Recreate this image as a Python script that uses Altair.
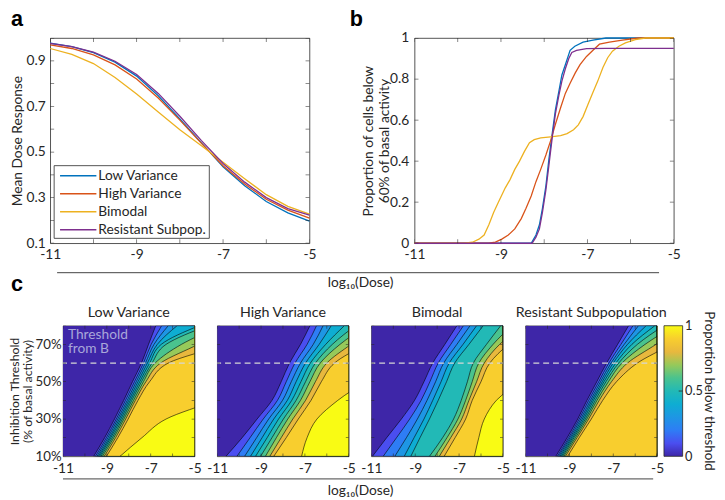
import altair as alt
import pandas as pd

FONT = "Lato"
INK = "#262626"

# ---------------- panel a : mean dose response ----------------
dose_a = [-11, -10.5, -10, -9.5, -9, -8.5, -8, -7.5, -7, -6.5, -6, -5.5, -5]
mean_low = [0.977, 0.962, 0.936, 0.894, 0.833, 0.747, 0.645, 0.540, 0.435, 0.352, 0.283, 0.233, 0.197]
mean_high = [0.970, 0.954, 0.926, 0.882, 0.820, 0.737, 0.640, 0.538, 0.440, 0.360, 0.293, 0.245, 0.210]
mean_bimodal = [0.954, 0.928, 0.888, 0.827, 0.754, 0.676, 0.598, 0.528, 0.455, 0.383, 0.313, 0.262, 0.228]
mean_resistant = [0.976, 0.962, 0.938, 0.898, 0.840, 0.757, 0.657, 0.550, 0.450, 0.368, 0.300, 0.252, 0.223]
series_names = ["Low Variance", "High Variance", "Bimodal", "Resistant Subpop."]
series_colors = ["#0072BD", "#D95319", "#EDB120", "#7E2F8E"]

# ---------------- panel b : proportion below 60% ----------------
b_low_dose = [-11, -8.30, -8.19, -8.11, -8.04, -7.96, -7.89, -7.81, -7.74, -7.66, -7.59, -7.51, -7.40, -7.29, -7.10, -6.87, -6.57, -5]
b_low_prop = [0, 0, 0.04, 0.09, 0.17, 0.28, 0.41, 0.54, 0.65, 0.74, 0.82, 0.87, 0.94, 0.96, 0.98, 0.99, 1.0, 1.0]
b_high_dose = [-11, -9.28, -9.13, -8.98, -8.83, -8.68, -8.53, -8.42, -8.30, -8.19, -8.08, -7.96, -7.85, -7.74, -7.62, -7.51, -7.40, -7.28, -7.17, -7.02, -6.87, -6.72, -6.49, -6.19, -5.82, -5]
b_high_prop = [0, 0, 0.006, 0.02, 0.04, 0.07, 0.12, 0.17, 0.23, 0.30, 0.36, 0.43, 0.50, 0.58, 0.66, 0.73, 0.78, 0.83, 0.87, 0.91, 0.94, 0.97, 0.98, 0.99, 1.0, 1.0]
b_bim_dose = [-11, -9.85, -9.66, -9.51, -9.39, -9.28, -9.17, -9.06, -8.90, -8.79, -8.68, -8.57, -8.45, -8.34, -8.23, -8.08, -7.85, -7.62, -7.47, -7.32, -7.21, -7.10, -6.98, -6.87, -6.76, -6.64, -6.53, -6.42, -6.27, -6.12, -5.89, -5.66, -5]
b_bim_prop = [0, 0, 0.005, 0.02, 0.04, 0.09, 0.15, 0.20, 0.27, 0.31, 0.36, 0.40, 0.45, 0.49, 0.505, 0.513, 0.518, 0.524, 0.534, 0.553, 0.577, 0.617, 0.68, 0.736, 0.79, 0.856, 0.904, 0.936, 0.96, 0.976, 0.992, 1.0, 1.0]
b_res_dose = [-11, -8.28, -8.19, -8.11, -8.04, -7.96, -7.89, -7.81, -7.74, -7.66, -7.59, -7.51, -7.43, -7.36, -7.25, -7.02, -6.57, -5]
b_res_prop = [0, 0, 0.03, 0.07, 0.15, 0.26, 0.38, 0.52, 0.63, 0.72, 0.79, 0.85, 0.90, 0.93, 0.94, 0.948, 0.95, 0.95]

# ---------------- panel c : contour maps ----------------
thresholds = [10, 20, 30, 40, 50, 60, 70, 80]
levels = [0.0, 0.1, 0.2, 0.3, 0.4, 0.5, 0.6, 0.7, 0.8, 0.9, 1.0]
parula = ["#3e26a8", "#4a4ef0", "#2e7df5", "#1e96e4", "#0eadd2", "#22b9b6",
          "#4ac38e", "#96c95a", "#e8b83e", "#f8ce2e", "#f9fb14"]
c_titles = ["Low Variance", "High Variance", "Bimodal", "Resistant Subpopulation"]
threshold_from_b = 60
threshold_note = "Threshold\nfrom B"

# log10(dose) of each contour level (0.1 ... 1.0) at thresholds 10% ... 80%
low_bounds = [
    [-9.60, -9.10, -8.65, -8.23, -7.83, -7.42, -7.10, -6.77],
    [-9.52, -9.02, -8.57, -8.15, -7.74, -7.33, -6.98, -6.50],
    [-9.45, -8.95, -8.50, -8.07, -7.66, -7.24, -6.85, -6.20],
    [-9.39, -8.88, -8.43, -8.00, -7.58, -7.15, -6.70, -5.80],
    [-9.33, -8.82, -8.36, -7.93, -7.50, -7.05, -6.52, -4.80],
    [-9.27, -8.75, -8.29, -7.86, -7.42, -6.94, -6.30, -4.40],
    [-9.20, -8.68, -8.22, -7.78, -7.33, -6.80, -5.60, -3.80],
    [-9.12, -8.60, -8.14, -7.70, -7.22, -6.55, -4.85, -3.40],
    [-9.02, -8.50, -8.03, -7.58, -7.05, -6.20, -3.80, -3.00],
    [-8.40, -7.40, -6.30, -4.10, -2.50, -1.50, -0.50, 0.50],
]
high_bounds = [
    [-10.60, -9.86, -9.18, -8.50, -8.08, -7.70, -7.20, -6.77],
    [-10.10, -9.50, -8.90, -8.25, -7.85, -7.45, -6.90, -6.47],
    [-9.75, -9.20, -8.65, -8.02, -7.62, -7.20, -6.62, -6.17],
    [-9.48, -8.95, -8.42, -7.80, -7.40, -6.97, -6.35, -5.80],
    [-9.25, -8.72, -8.20, -7.60, -7.18, -6.75, -6.05, -5.20],
    [-9.02, -8.50, -7.98, -7.40, -6.97, -6.52, -5.75, -4.70],
    [-8.80, -8.30, -7.78, -7.20, -6.77, -6.30, -5.40, -4.20],
    [-8.60, -8.08, -7.55, -6.97, -6.52, -6.00, -4.90, -3.70],
    [-8.42, -7.85, -7.30, -6.72, -6.25, -5.65, -4.30, -3.20],
    [-7.15, -6.90, -6.45, -5.50, -4.30, -3.50, -2.50, -1.50],
]
bimodal_bounds = [
    [-10.95, -10.30, -9.63, -9.03, -8.60, -8.20, -7.65, -7.10],
    [-10.46, -9.85, -9.25, -8.73, -8.33, -7.95, -7.38, -6.80],
    [-9.93, -9.40, -8.90, -8.46, -8.07, -7.70, -7.10, -6.50],
    [-9.50, -9.05, -8.60, -8.20, -7.82, -7.45, -6.82, -6.20],
    [-9.20, -8.78, -8.35, -7.95, -7.57, -7.20, -6.55, -5.90],
    [-8.35, -7.75, -7.25, -6.90, -6.62, -6.35, -5.75, -5.10],
    [-8.10, -7.55, -7.05, -6.70, -6.40, -6.10, -5.45, -4.60],
    [-7.90, -7.38, -6.88, -6.55, -6.20, -5.85, -5.15, -4.10],
    [-7.68, -7.18, -6.70, -6.40, -6.00, -5.60, -4.75, -3.60],
    [-6.30, -6.10, -5.85, -5.30, -4.30, -3.80, -3.00, -2.00],
]
resistant_bounds = [
    [-9.62, -9.10, -8.62, -8.20, -7.75, -7.30, -6.80, -6.30],
    [-9.55, -9.03, -8.55, -8.12, -7.66, -7.20, -6.65, -6.10],
    [-9.49, -8.97, -8.48, -8.04, -7.58, -7.10, -6.50, -5.85],
    [-9.43, -8.91, -8.41, -7.97, -7.50, -7.00, -6.35, -5.50],
    [-9.37, -8.85, -8.34, -7.90, -7.42, -6.88, -6.15, -5.10],
    [-9.31, -8.79, -8.27, -7.82, -7.33, -6.75, -5.90, -4.70],
    [-9.25, -8.72, -8.20, -7.74, -7.22, -6.60, -5.55, -4.20],
    [-9.18, -8.65, -8.12, -7.64, -7.08, -6.35, -5.05, -3.80],
    [-9.08, -8.55, -8.00, -7.48, -6.85, -5.90, -4.40, -3.40],
    [-5.02, -4.80, -4.50, -4.00, -3.50, -3.00, -2.50, -2.00],
]
c_bounds = [low_bounds, high_bounds, bimodal_bounds, resistant_bounds]

# ---------------- ticks / labels ----------------
dose_ticks = [-11, -10, -9, -8, -7, -6, -5]
dose_labels = [-11, -9, -7, -5]
a_ticks = [0.1, 0.2, 0.3, 0.4, 0.5, 0.6, 0.7, 0.8, 0.9, 1.0]
a_labels = [0.1, 0.3, 0.5, 0.7, 0.9]
b_ticks = [0, 0.2, 0.4, 0.6, 0.8, 1]
c_ticks = [10, 20, 30, 40, 50, 60, 70, 80]
c_labels = [10, 30, 50, 70]
cbar_labels = [0, 0.5, 1]

XDOM = [dose_ticks[0], dose_ticks[-1]]
OFF = "off"


def pos(channel, field, scale, axis=None):
    """axis=None -> default axis (merges with the explicit one), OFF -> no axis."""
    cls = alt.X if channel == "x" else alt.Y
    kw = dict(scale=scale)
    if axis is OFF:
        kw["axis"] = None
    elif axis is not None:
        kw["axis"] = axis
    if channel == "x":
        kw["stack"] = None
    return cls(field, **kw)


def frame_ticks(xvals, yvals, xscale, yscale, w, h, L=4, xaxis=None, yaxis=None):
    dx = pd.DataFrame({"v": xvals})
    dy = pd.DataFrame({"v": yvals})
    bx = alt.Chart(dx).mark_tick(orient="vertical", size=2 * L, thickness=0.8, color=INK, clip=True)
    by = alt.Chart(dy).mark_tick(orient="horizontal", size=2 * L, thickness=0.8, color=INK, clip=True)
    X = pos("x", "v:Q", xscale, xaxis)
    Y = pos("y", "v:Q", yscale, yaxis)
    return [bx.encode(x=X, y=alt.value(0)), bx.encode(x=X, y=alt.value(h)),
            by.encode(y=Y, x=alt.value(0)), by.encode(y=Y, x=alt.value(w))]


def x_axis():
    return alt.Axis(values=dose_labels, ticks=False, domain=False, grid=False, labelFlush=False,
                    labelExpr="'' + datum.value", labelPadding=5, title=None)


def text_layer(txt, x, y, **kw):
    return alt.Chart(pd.DataFrame({"s": [txt]})).mark_text(**kw).encode(
        text="s:N", x=alt.value(x), y=alt.value(y))


def panel_letter(letter, x, y):
    return text_layer(letter, x, y, font="Liberation Sans", fontWeight="bold", fontSize=22,
                      align="left", baseline="top", color="black")


def hrule(x1, x2, y):
    return alt.Chart(pd.DataFrame({"s": [0]})).mark_rule(color="#404040", strokeWidth=1).encode(
        x=alt.value(x1), x2=alt.value(x2), y=alt.value(y))


def spacer(w, h):
    return alt.Chart(pd.DataFrame({"v": [0]})).mark_point(opacity=0).encode(
        x=alt.X("v:Q", axis=None), y=alt.Y("v:Q", axis=None)
    ).properties(width=w, height=h, view=alt.ViewBackground(strokeOpacity=0))


DOSE_TITLE = "log\u2081\u2080(Dose)"

# ---------------- chart a ----------------
WA, HA = 264, 209
rows = []
for name, vals in zip(series_names, [mean_low, mean_high, mean_bimodal, mean_resistant]):
    for d, v in zip(dose_a, vals):
        rows.append({"series": name, "dose": d, "value": v})
df_a = pd.DataFrame(rows)
XA = alt.Scale(domain=XDOM, nice=False, zero=False)
YA = alt.Scale(domain=[0.1, 1.0], nice=False, zero=False)
SER = alt.Scale(domain=series_names, range=series_colors)
lines_a = alt.Chart(df_a).mark_line(strokeWidth=1.3).encode(
    x=pos("x", "dose:Q", XA, x_axis()),
    y=pos("y", "value:Q", YA, alt.Axis(values=a_labels, ticks=False, domain=False, grid=False,
                                       labelFlush=False, labelExpr="'' + datum.value",
                                       labelPadding=5, title="Mean Dose Response", titlePadding=2)),
    color=alt.Color("series:N", scale=SER, legend=None),
)
main_a = alt.layer(
    lines_a, *frame_ticks(dose_ticks, a_ticks, XA, YA, WA, HA),
    panel_letter("a", -40, -29),
    hrule(7, 620, 239),
    text_layer(DOSE_TITLE, 316, 250, font=FONT, fontSize=14, color=INK, align="center", baseline="middle"),
    panel_letter("c", -40, 241),
)
# hand-built legend box (entries come from series_names)
leg_df = pd.DataFrame({"series": series_names})
LEG_Y = alt.Y("series:N", scale=alt.Scale(domain=series_names, range=[131.1, 204.4]), axis=None)
legend_a = alt.layer(
    alt.Chart(pd.DataFrame({"s": [0]})).mark_rect(fill="white", stroke=INK, strokeWidth=0.8).encode(
        x=alt.value(4), x2=alt.value(162), y=alt.value(130), y2=alt.value(204)),
    alt.Chart(leg_df).mark_rule(strokeWidth=1.5).encode(
        y=LEG_Y, x=alt.value(10), x2=alt.value(47), color=alt.Color("series:N", scale=SER, legend=None)),
    alt.Chart(leg_df).mark_text(align="left", baseline="middle", font=FONT, fontSize=14, color=INK).encode(
        y=LEG_Y, x=alt.value(49), text="series:N"),
)
chart_a = alt.layer(main_a, legend_a).resolve_scale(y="independent").properties(width=WA, height=HA)

# ---------------- chart b ----------------
rows = []
for name, ds, ps in zip(series_names, [b_low_dose, b_high_dose, b_bim_dose, b_res_dose],
                        [b_low_prop, b_high_prop, b_bim_prop, b_res_prop]):
    for d, p in zip(ds, ps):
        rows.append({"series": name, "dose": d, "prop": p})
df_b = pd.DataFrame(rows)
YB = alt.Scale(domain=[0, 1], nice=False, zero=False)
lines_b = alt.Chart(df_b).mark_line(strokeWidth=1.3).encode(
    x=pos("x", "dose:Q", XA, x_axis()),
    y=pos("y", "prop:Q", YB, alt.Axis(values=b_ticks, ticks=False, domain=False, grid=False,
                                      labelFlush=False, labelExpr="'' + datum.value", labelPadding=6,
                                      title=["Proportion of cells below", "60% of basal activity"],
                                      titlePadding=-2, titleLineHeight=16)),
    color=alt.Color("series:N", scale=SER, legend=None),
)
chart_b = alt.layer(lines_b, *frame_ticks(dose_ticks, b_ticks, XA, YB, WA, HA),
                    panel_letter("b", -66, -29)).properties(width=WA, height=HA)

# ---------------- charts c ----------------
WC, HC = 134, 133
XC = alt.Scale(domain=XDOM, nice=False, zero=False)
YC = alt.Scale(domain=[c_ticks[0], c_ticks[-1]], nice=False, zero=False)
CS = alt.Scale(domain=levels, range=parula)
WB = 19
YCB = alt.Scale(domain=[levels[0], levels[-1]], nice=False, zero=False)
c_yaxis = alt.Axis(values=c_labels, ticks=False, domain=False, grid=False, labelFlush=False,
                   labelExpr="datum.value + '%'", labelPadding=2, labelFontSize=13.5,
                   title=["Inhibition Threshold", "(% of basal activity)"], titlePadding=1,
                   titleLineHeight=12.5, titleFontSize=12.5)


def c_panel(i):
    bounds = c_bounds[i]
    rows = []
    for k, lev in enumerate(levels):
        xs = [XDOM[0]] * len(thresholds) if k == 0 else bounds[k - 1]
        for t, x in zip(thresholds, xs):
            rows.append({"k": k, "level": lev, "t": t, "x": x, "xr": XDOM[1]})
    df = pd.DataFrame(rows)
    ymode = None if i == 0 else OFF
    layers = []
    for k in range(len(levels)):
        first = k == 0
        mk = dict(orient="horizontal", interpolate="monotone", clip=True)
        if not first:
            mk.update(stroke="black", strokeWidth=0.6)
        yax = (c_yaxis if i == 0 else OFF) if first else ymode
        layers.append(
            alt.Chart(df).transform_filter(f"datum.k == {k}")
            .mark_area(**mk)
            .encode(
                y=pos("y", "t:Q", YC, yax),
                x=pos("x", "x:Q", XC, x_axis() if first else None),
                x2="xr:Q",
                color=alt.Color("level:Q", scale=CS, legend=None),
            )
        )
    layers.append(
        alt.Chart(pd.DataFrame({"t": [threshold_from_b]}))
        .mark_rule(color="#d6d6d6", strokeDash=[6, 4], strokeWidth=1.2)
        .encode(y=pos("y", "t:Q", YC, ymode))
    )
    layers += frame_ticks(dose_ticks, c_ticks, XC, YC, WC, HC, L=3, yaxis=ymode)
    layers.append(text_layer(c_titles[i], WC / 2, -9, font=FONT, fontSize=14.5, color=INK,
                             align="center", baseline="alphabetic"))
    if i == 0:
        layers.append(text_layer(threshold_note, 5, 10, font=FONT, fontSize=14, color="#a9a7da",
                                 align="left", baseline="middle", lineBreak="\n", lineHeight=14))
        layers.append(hrule(0, 601, 156))
        layers.append(text_layer(DOSE_TITLE, 303, 168, font=FONT, fontSize=14, color=INK,
                                 align="center", baseline="middle"))
    main = alt.layer(*layers)
    if i == 3:
        cb = pd.DataFrame({"lo": [levels[0]], "hi": [levels[-1]]})
        grad = alt.LinearGradient(gradient="linear",
                                  stops=[alt.GradientStop(color=c, offset=o) for o, c in zip(levels, parula)],
                                  x1=0, x2=0, y1=1, y2=0)
        cbar_rect = alt.Chart(cb).mark_rect(fill=grad, stroke=INK, strokeWidth=0.8).encode(
            y=pos("y", "lo:Q", YCB,
                  alt.Axis(orient="right", offset=7 + WB, values=cbar_labels, ticks=False, domain=False,
                           grid=False, labelFlush=False, labelExpr="'' + datum.value",
                           labelPadding=2, labelFontSize=13, title=None)),
            y2="hi:Q", x=alt.value(WC + 7), x2=alt.value(WC + 7 + WB))
        cbar_tick = alt.Chart(pd.DataFrame({"v": [cbar_labels[1]]})).mark_rule(
            color=INK, strokeWidth=0.8).encode(
            y=pos("y", "v:Q", YCB), x=alt.value(WC + 7 + WB - 4), x2=alt.value(WC + 7 + WB))
        cbar_title = text_layer("Proportion below threshold", 187, 66.5, font=FONT, fontSize=13.5,
                                color=INK, align="center", baseline="middle", angle=90)
        main = alt.layer(main, alt.layer(cbar_rect, cbar_tick, cbar_title)).resolve_scale(y="independent")
    return main.properties(width=WC, height=HC)


c_charts = [c_panel(i) for i in range(4)]

row1 = alt.hconcat(chart_a, chart_b, spacing=107, bounds="flush").resolve_scale(color="independent")
row2 = alt.hconcat(spacer(13, HC), c_charts[0], spacer(22.5, HC), c_charts[1], spacer(22.5, HC),
                   c_charts[2], spacer(22.5, HC), c_charts[3], spacing=0, bounds="flush")

chart = alt.vconcat(row1, row2, spacing=8).resolve_scale(
    color="independent"
).properties(
    padding={"left": 0, "top": -5, "right": 0, "bottom": 2}
).configure_view(
    stroke=INK, strokeWidth=0.8
).configure_axis(
    labelFont=FONT, labelFontSize=14, labelColor=INK, titleFont=FONT, titleFontSize=14,
    titleFontWeight="normal", titleColor=INK
)

chart.save("out.html", embed_options={"renderer": "svg", "actions": False})
